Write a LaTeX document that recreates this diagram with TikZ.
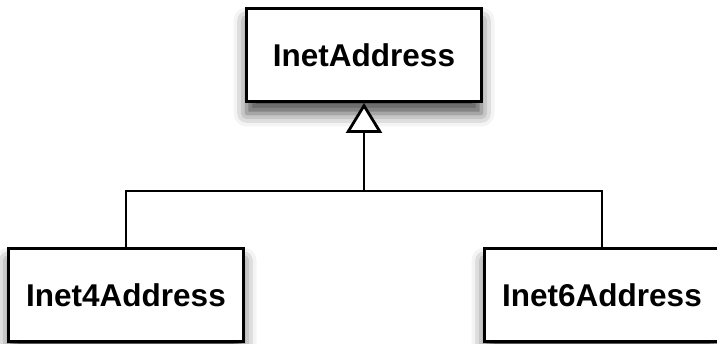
\documentclass[tikz,border=0pt]{standalone}
\usepackage{fontspec}
\setsansfont{Liberation Sans}
\usetikzlibrary{arrows.meta,positioning,calc,shadows.blur}

\begin{document}
\begin{tikzpicture}[x=1pt,y=1pt,line width=2.8pt,node distance=144pt and 0pt]
  \tikzstyle{class}=[draw,fill=white,line width=3pt,minimum width=235pt,minimum height=93pt,
    font=\sffamily\bfseries\fontsize{31.5}{36}\selectfont,
    blur shadow={shadow xshift=0pt,shadow yshift=-12pt,shadow blur radius=13pt,shadow opacity=70}]
  \tikzstyle{inherit}=[-{Triangle[fill=white,length=30pt,width=36pt]}]
  \useasboundingbox (0,0) rectangle (717,343);
  \node[class] (base) at (364,288) {InetAddress};
  \node[class,below left=of base] (v4) {Inet4Address};
  \node[class,below right=of base] (v6) {Inet6Address};
  \coordinate (join) at ($(base.south)+(0,-88)$);
  \draw (v4.north) |- (join) -| (v6.north);
  \draw[inherit] (join) -- (base.south);
\end{tikzpicture}
\end{document}
